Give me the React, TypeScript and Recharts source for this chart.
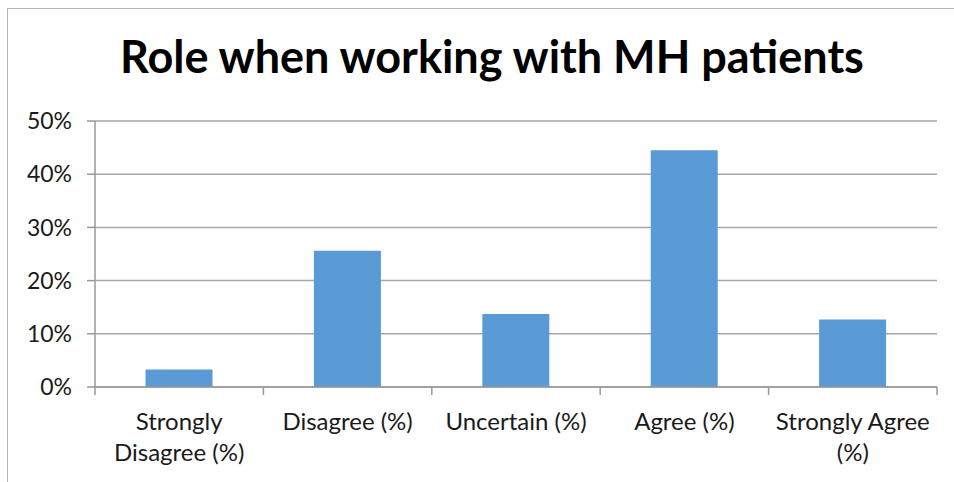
import React from "react";
import { BarChart, Bar, XAxis, YAxis, CartesianGrid } from "recharts";

const categories = [
  "Strongly Disagree (%)",
  "Disagree (%)",
  "Uncertain (%)",
  "Agree (%)",
  "Strongly Agree (%)",
];
const tickLines = [
  ["Strongly", "Disagree (%)"],
  ["Disagree (%)"],
  ["Uncertain (%)"],
  ["Agree (%)"],
  ["Strongly Agree", "(%)"],
];
const values = [0.033, 0.256, 0.137, 0.445, 0.127];
const yTicks = [0, 0.1, 0.2, 0.3, 0.4, 0.5];
const boundaryTicks = [0, 1, 2, 3, 4, 5];

const FONT = "Lato, 'Open Sans', sans-serif";

const data = categories.map((c, i) => ({ name: c, value: values[i], idx: i + 0.5 }));

function CategoryTick(props: any) {
  const { x, y, index } = props;
  const lines = tickLines[index] || [];
  return (
    <g>
      {lines.map((l, i) => (
        <text
          key={i}
          x={x}
          y={y + 42 + i * 31}
          textAnchor="middle"
          fontFamily={FONT}
          fontSize={24}
          fill="#1a1a1a"
        >
          {l}
        </text>
      ))}
    </g>
  );
}

export default function App() {
  return (
    <div
      style={{
        position: "fixed",
        left: 0,
        top: 0,
        width: 954,
        height: 482,
        overflow: "hidden",
        background: "#fff",
      }}
    >
      <div
        style={{
          position: "absolute",
          left: 7,
          top: 8,
          width: 1000,
          height: 600,
          border: "1.5px solid #b5b5b5",
        }}
      />
      <div
        style={{
          position: "absolute",
          left: 0,
          top: 30,
          width: 984,
          textAlign: "center",
          fontFamily: FONT,
          fontWeight: 700,
          fontSize: 45,
          color: "#000",
          lineHeight: "52px",
        }}
      >
        Role when working with MH patients
      </div>
      <div style={{ position: "absolute", left: 0, top: 0 }}>
        <BarChart
          width={954}
          height={482}
          data={data}
          margin={{ top: 121, right: 17, bottom: 34, left: 35 }}
          barCategoryGap="30%"
        >
          <CartesianGrid
            horizontal={true}
            vertical={false}
            stroke="#a6a6a6"
            strokeWidth={1.5}
          />
          <XAxis
            xAxisId="bounds"
            type="number"
            dataKey="idx"
            domain={[0, 5]}
            ticks={boundaryTicks}
            interval={0}
            tick={() => <g />}
            tickSize={8}
            height={1}
            axisLine={{ stroke: "#999", strokeWidth: 1.5 }}
            tickLine={{ stroke: "#999", strokeWidth: 1.5 }}
          />
          <XAxis
            xAxisId="cat"
            dataKey="name"
            type="category"
            axisLine={false}
            tickLine={false}
            tickSize={0}
            tickMargin={0}
            height={60}
            interval={0}
            tick={<CategoryTick />}
          />
          <YAxis
            domain={[0, 0.5]}
            ticks={yTicks}
            width={60}
            tickSize={8}
            tickMargin={15}
            tickFormatter={(v: number) => `${Math.round(v * 100)}%`}
            axisLine={{ stroke: "#999", strokeWidth: 1.5 }}
            tickLine={{ stroke: "#999", strokeWidth: 1.5 }}
            tick={{ fontFamily: FONT, fontSize: 23, fill: "#1a1a1a" }}
          />
          <Bar
            xAxisId="cat"
            dataKey="value"
            fill="#5b9bd5"
            isAnimationActive={false}
          />
        </BarChart>
      </div>
    </div>
  );
}
